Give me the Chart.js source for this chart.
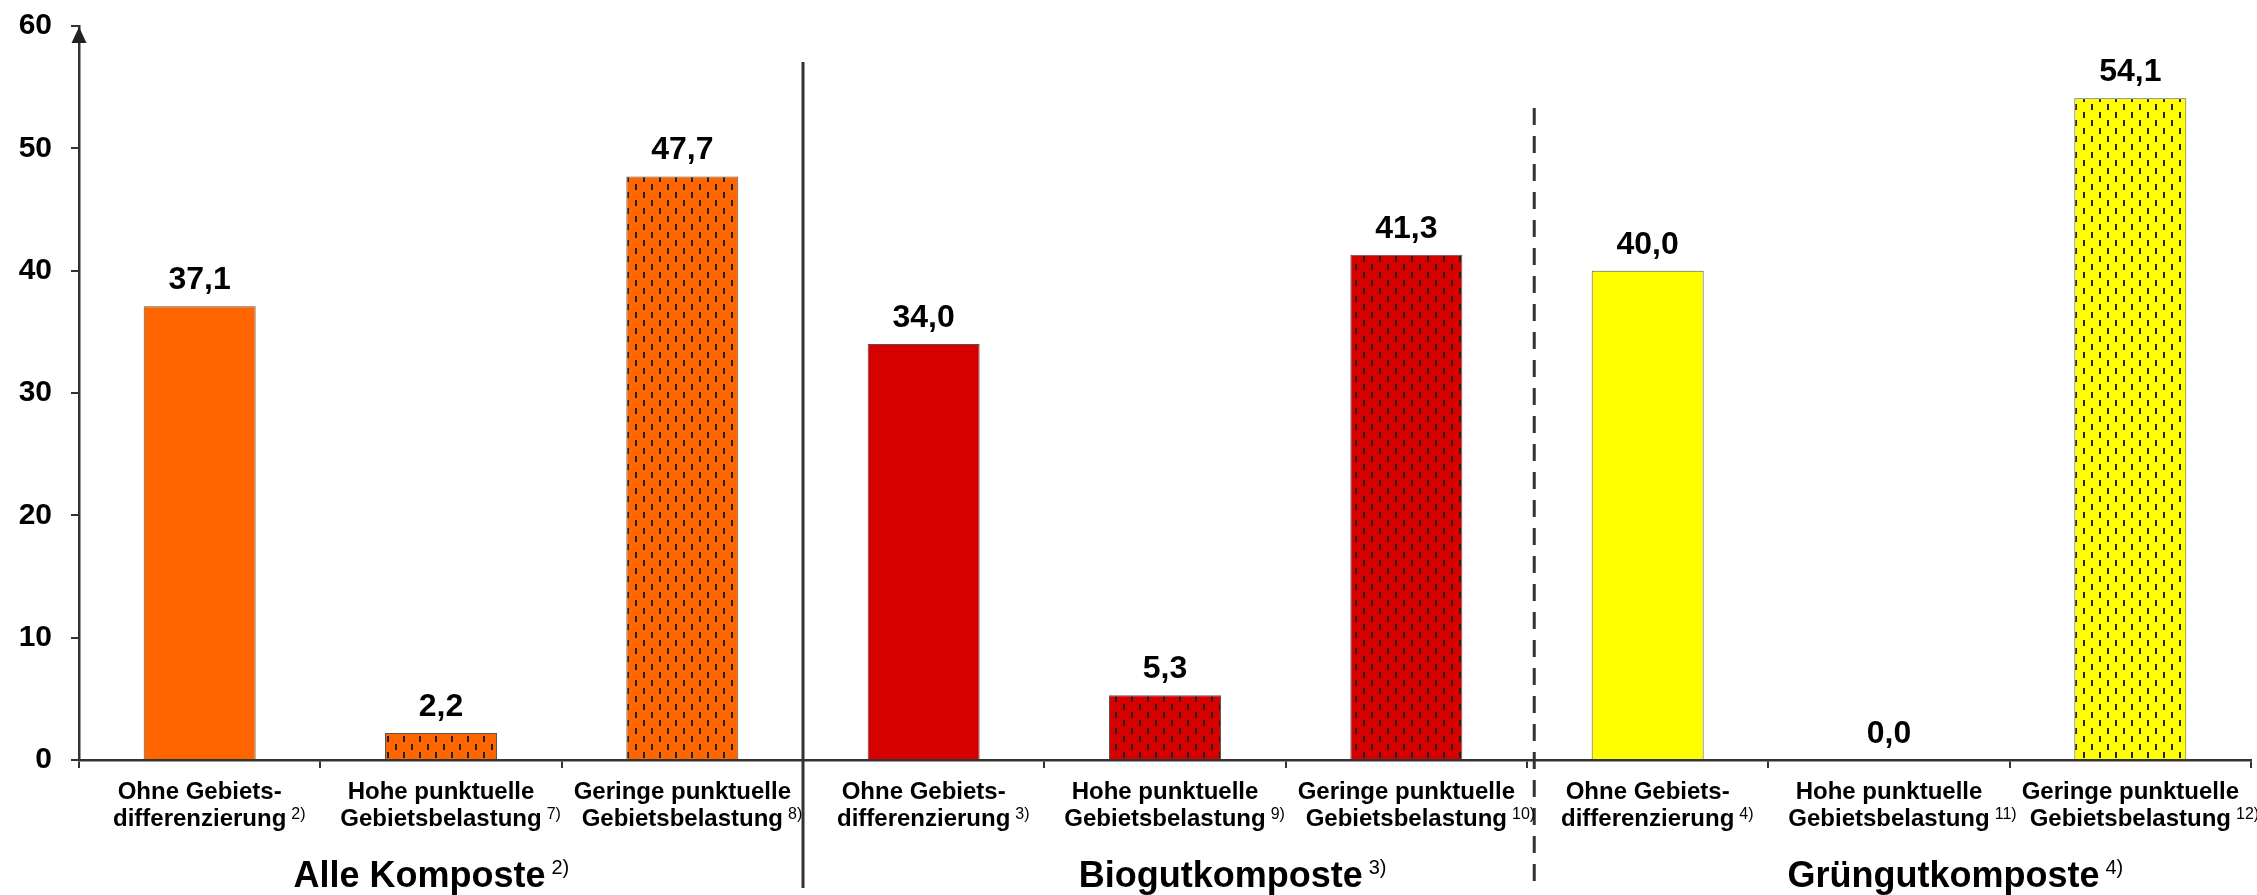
<!DOCTYPE html>
<html>
<head>
<meta charset="utf-8">
<script src="https://cdn.jsdelivr.net/npm/chart.js@4/dist/chart.umd.min.js"></script>
<style>
  html, body { margin: 0; padding: 0; background: #fff; }
  #wrap { width: 2257px; height: 895px; }
</style>
</head>
<body>
<div id="wrap"><canvas id="c" width="2257" height="895"></canvas></div>
<script>
// Categories (two text lines + footnote marker)
const categoryLine1 = ['Ohne Gebiets-', 'Hohe punktuelle', 'Geringe punktuelle',
                       'Ohne Gebiets-', 'Hohe punktuelle', 'Geringe punktuelle',
                       'Ohne Gebiets-', 'Hohe punktuelle', 'Geringe punktuelle'];
const categoryLine2 = ['differenzierung', 'Gebietsbelastung', 'Gebietsbelastung',
                       'differenzierung', 'Gebietsbelastung', 'Gebietsbelastung',
                       'differenzierung', 'Gebietsbelastung', 'Gebietsbelastung'];
const categoryNotes = ['2)', '7)', '8)', '3)', '9)', '10)', '4)', '11)', '12)'];

// Values per category
const values = [37.1, 2.2, 47.7, 34.0, 5.3, 41.3, 40.0, 0.0, 54.1];

// Compost groups (three categories each)
const groupNames = ['Alle Komposte', 'Biogutkomposte', 'Grüngutkomposte'];
const groupNotes = ['2)', '3)', '4)'];

// Y axis ticks
const yTicks = [0, 10, 20, 30, 40, 50, 60];

// ---- styling ----
const FONT = "'Liberation Sans', Arial, Helvetica, sans-serif";
const groupColors = ['#FF6600', '#D70000', '#FFFF00'];
const hatchedSlots = [false, true, true];   // within each group
const axisColor = '#333333';

const canvas = document.getElementById('c');
const mainCtx = canvas.getContext('2d');

function dashPattern(color) {
  const t = document.createElement('canvas');
  t.width = 16; t.height = 16;
  const g = t.getContext('2d');
  g.fillStyle = color; g.fillRect(0, 0, 16, 16);
  g.fillStyle = '#222222';
  g.fillRect(3, 0, 2, 6);
  g.fillRect(11, 8, 2, 6);
  return mainCtx.createPattern(t, 'repeat');
}

const barFills = values.map((v, i) => {
  const c = groupColors[Math.floor(i / 3)];
  return hatchedSlots[i % 3] ? dashPattern(c) : c;
});

const fmt = v => v.toFixed(1).replace('.', ',');

const overlay = {
  id: 'overlay',
  afterDraw(chart) {
    const { ctx, chartArea: a, scales: { x, y } } = chart;
    ctx.save();

    // arrow head on the value axis
    const tip = y.getPixelForValue(60) + 1;
    ctx.fillStyle = '#222';
    ctx.beginPath();
    ctx.moveTo(a.left, tip);
    ctx.lineTo(a.left - 7.5, tip + 16);
    ctx.lineTo(a.left + 7.5, tip + 16);
    ctx.closePath();
    ctx.fill();

    // group separators
    ctx.strokeStyle = axisColor;
    ctx.lineWidth = 3;
    const sx = x.getPixelForValue(2.5);
    ctx.beginPath(); ctx.moveTo(sx, a.top + 36); ctx.lineTo(sx, a.bottom + 128); ctx.stroke();
    const dx = x.getPixelForValue(5.53);
    ctx.setLineDash([17, 11]);
    ctx.beginPath(); ctx.moveTo(dx, a.top + 82); ctx.lineTo(dx, a.bottom + 128); ctx.stroke();
    ctx.setLineDash([]);

    // value labels above bars
    ctx.fillStyle = '#000';
    ctx.textAlign = 'center';
    ctx.textBaseline = 'alphabetic';
    ctx.font = `bold 32px ${FONT}`;
    const meta = chart.getDatasetMeta(0);
    meta.data.forEach((bar, i) => {
      ctx.fillText(fmt(values[i]), bar.x, bar.y - 17);
    });

    // category labels with footnote markers
    values.forEach((v, i) => {
      const cx = x.getPixelForValue(i);
      ctx.textAlign = 'center';
      ctx.font = `bold 24px ${FONT}`;
      ctx.fillText(categoryLine1[i], cx, a.bottom + 39);
      ctx.fillText(categoryLine2[i], cx, a.bottom + 66);
      const w2 = ctx.measureText(categoryLine2[i]).width;
      ctx.textAlign = 'left';
      ctx.font = `16px ${FONT}`;
      ctx.fillText(categoryNotes[i], cx + w2 / 2 + 5, a.bottom + 59);
    });

    // group titles
    const titleAt = [0.96, 4.28, 7.275];
    groupNames.forEach((name, g) => {
      ctx.font = `bold 36px ${FONT}`;
      const wm = ctx.measureText(name).width;
      ctx.font = `20px ${FONT}`;
      const wn = ctx.measureText(groupNotes[g]).width;
      const total = wm + 6 + wn;
      const left = x.getPixelForValue(titleAt[g]) - total / 2;
      ctx.textAlign = 'left';
      ctx.font = `bold 36px ${FONT}`;
      ctx.fillText(name, left, a.bottom + 127);
      ctx.font = `20px ${FONT}`;
      ctx.fillText(groupNotes[g], left + wm + 6, a.bottom + 114);
    });

    ctx.restore();
  }
};

new Chart(canvas, {
  type: 'bar',
  data: {
    labels: categoryLine1.map((l, i) => [l, categoryLine2[i]]),
    datasets: [{
      data: values,
      backgroundColor: barFills,
      borderColor: '#555555',
      borderWidth: 1,
      borderSkipped: 'bottom',
      barPercentage: 0.464,
      categoryPercentage: 1.0
    }]
  },
  options: {
    responsive: false,
    devicePixelRatio: 1,
    animation: false,
    layout: { padding: { top: 26, right: 6, left: 0, bottom: 0 } },
    plugins: { legend: { display: false }, tooltip: { enabled: false } },
    scales: {
      x: {
        offset: true,
        grid: { display: true, drawOnChartArea: false, drawTicks: true, tickLength: 8,
                color: axisColor, lineWidth: 2, offset: true },
        border: { display: true, color: axisColor, width: 2.5 },
        ticks: { display: false },
        afterFit(s) { s.height = 135; }
      },
      y: {
        min: 0, max: 60,
        afterBuildTicks(s) { s.ticks = yTicks.map(v => ({ value: v })); },
        grid: { display: true, drawOnChartArea: false, drawTicks: true, tickLength: 8,
                color: axisColor, lineWidth: 2 },
        border: { display: true, color: axisColor, width: 2.5 },
        ticks: { color: '#000', padding: 19, autoSkip: false,
                 font: { family: FONT, size: 30, weight: 'bold', lineHeight: 0.4 } },
        afterFit(s) { s.width = 79; }
      }
    }
  },
  plugins: [overlay]
});
</script>
</body>
</html>
